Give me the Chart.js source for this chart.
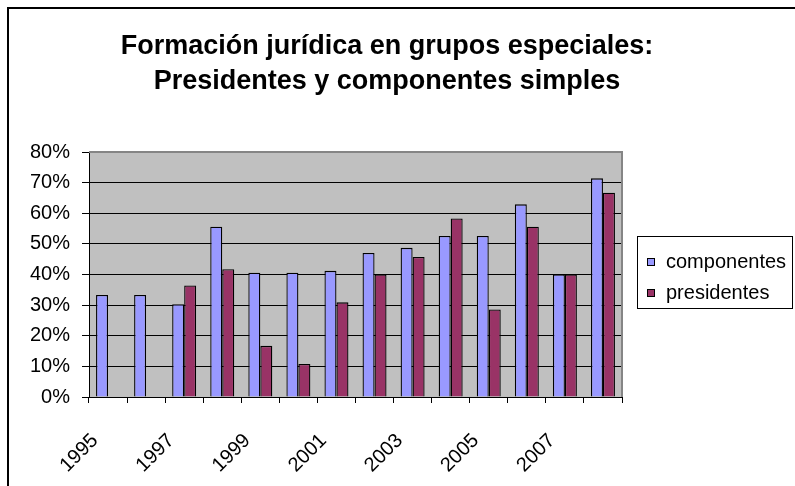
<!DOCTYPE html>
<html>
<head>
<meta charset="utf-8">
<script src="https://cdn.jsdelivr.net/npm/chart.js@4.4.1/dist/chart.umd.min.js"></script>
<style>
    html, body { margin: 0; padding: 0; background: #fff; }
</style>
</head>
<body>
<canvas id="grafico" width="795" height="486"></canvas>
<script>
// Datos (porcentajes)
const anos = ['1995', '1996', '1997', '1998', '1999', '2000', '2001', '2002', '2003', '2004', '2005', '2006', '2007', '2008'];
const componentes = [33.3, 33.3, 30.3, 55.6, 40.6, 40.6, 41.2, 47.0, 48.7, 52.6, 52.6, 62.9, 40.0, 71.4];
const presidentes = [null, null, 36.4, 41.7, 16.7, 10.8, 30.9, 40.0, 45.7, 58.3, 28.6, 55.6, 40.0, 66.7];
const titulo = ['Formación jurídica en grupos especiales:', 'Presidentes y componentes simples'];
const ejeYMax = 80;
const ejeYPaso = 10;

// Fondo gris, marco, título y leyenda al estilo Excel
const estiloExcel = {
    id: 'estiloExcel',
    beforeDraw(chart) {
        const { ctx, chartArea: a } = chart;
        ctx.save();
        ctx.fillStyle = '#fff';
        ctx.fillRect(0, 0, chart.width, chart.height);
        ctx.fillStyle = '#C0C0C0';
        ctx.fillRect(a.left, a.top, a.right - a.left, a.bottom - a.top);

        ctx.strokeStyle = '#000';
        ctx.lineWidth = 2;
        ctx.strokeRect(8, 8, chart.width + 10, chart.height + 10);

        ctx.fillStyle = '#000';
        ctx.font = 'bold 27px Arial, "Liberation Sans", sans-serif';
        ctx.textAlign = 'center';
        ctx.textBaseline = 'middle';
        ctx.fillText(titulo[0], 387, 47);
        ctx.fillText(titulo[1], 387, 82);
        ctx.restore();
    },
    afterDraw(chart) {
        const { ctx, chartArea: a } = chart;
        ctx.save();
        ctx.strokeStyle = '#858585';
        ctx.lineWidth = 2;
        ctx.beginPath();
        ctx.moveTo(a.left, a.top);
        ctx.lineTo(a.right, a.top);
        ctx.lineTo(a.right, a.bottom);
        ctx.stroke();

        // leyenda
        ctx.strokeStyle = '#000';
        ctx.lineWidth = 1;
        ctx.strokeRect(637.5, 236.5, 155, 72);
        ctx.font = '20px Arial, "Liberation Sans", sans-serif';
        ctx.textAlign = 'left';
        ctx.textBaseline = 'middle';
        chart.data.datasets.forEach((ds, i) => {
            const y = 262 + i * 31;
            ctx.fillStyle = ds.backgroundColor;
            ctx.fillRect(647, y - 4, 8, 8);
            ctx.strokeRect(647.5, y - 3.5, 7, 7);
            ctx.fillStyle = '#000';
            ctx.fillText(ds.label, 666, y);
        });
        ctx.restore();
    }
};

const grafico = new Chart(document.getElementById('grafico'), {
    type: 'bar',
    data: {
        labels: anos,
        datasets: [{
            label: 'componentes',
            data: componentes,
            backgroundColor: '#9999FF',
            borderColor: '#000',
            borderWidth: 1.3,
            barPercentage: 1.0,
            categoryPercentage: 0.63
        }, {
            label: 'presidentes',
            data: presidentes,
            backgroundColor: '#993366',
            borderColor: '#000',
            borderWidth: 1.3,
            barPercentage: 1.0,
            categoryPercentage: 0.63
        }]
    },
    options: {
        responsive: false,
        animation: false,
        layout: {
            padding: { left: 29, right: 173, top: 152, bottom: 0 }
        },
        scales: {
            x: {
                afterFit: function(scale) { scale.height = 89; },
                grid: {
                    offset: true,
                    drawOnChartArea: false,
                    color: '#000',
                    tickLength: 6
                },
                border: { color: '#000', width: 1 },
                ticks: {
                    autoSkip: false,
                    minRotation: 45,
                    maxRotation: 45,
                    padding: 26,
                    labelOffset: -13,
                    color: '#000',
                    font: { family: 'Arial, "Liberation Sans", sans-serif', size: 20 },
                    callback: function(value, index) {
                        return index % 2 === 0 ? this.getLabelForValue(value) : '';
                    }
                }
            },
            y: {
                min: 0,
                max: ejeYMax,
                afterFit: function(scale) { scale.width = 60; },
                grid: {
                    color: '#000',
                    tickLength: 7
                },
                border: { color: '#000', width: 1 },
                ticks: {
                    stepSize: ejeYPaso,
                    padding: 12,
                    color: '#000',
                    font: { family: 'Arial, "Liberation Sans", sans-serif', size: 20 },
                    callback: function(value) { return value + '%'; }
                }
            }
        },
        plugins: {
            legend: { display: false },
            title: { display: false },
            tooltip: { enabled: false }
        }
    },
    plugins: [estiloExcel]
});
</script>
</body>
</html>
